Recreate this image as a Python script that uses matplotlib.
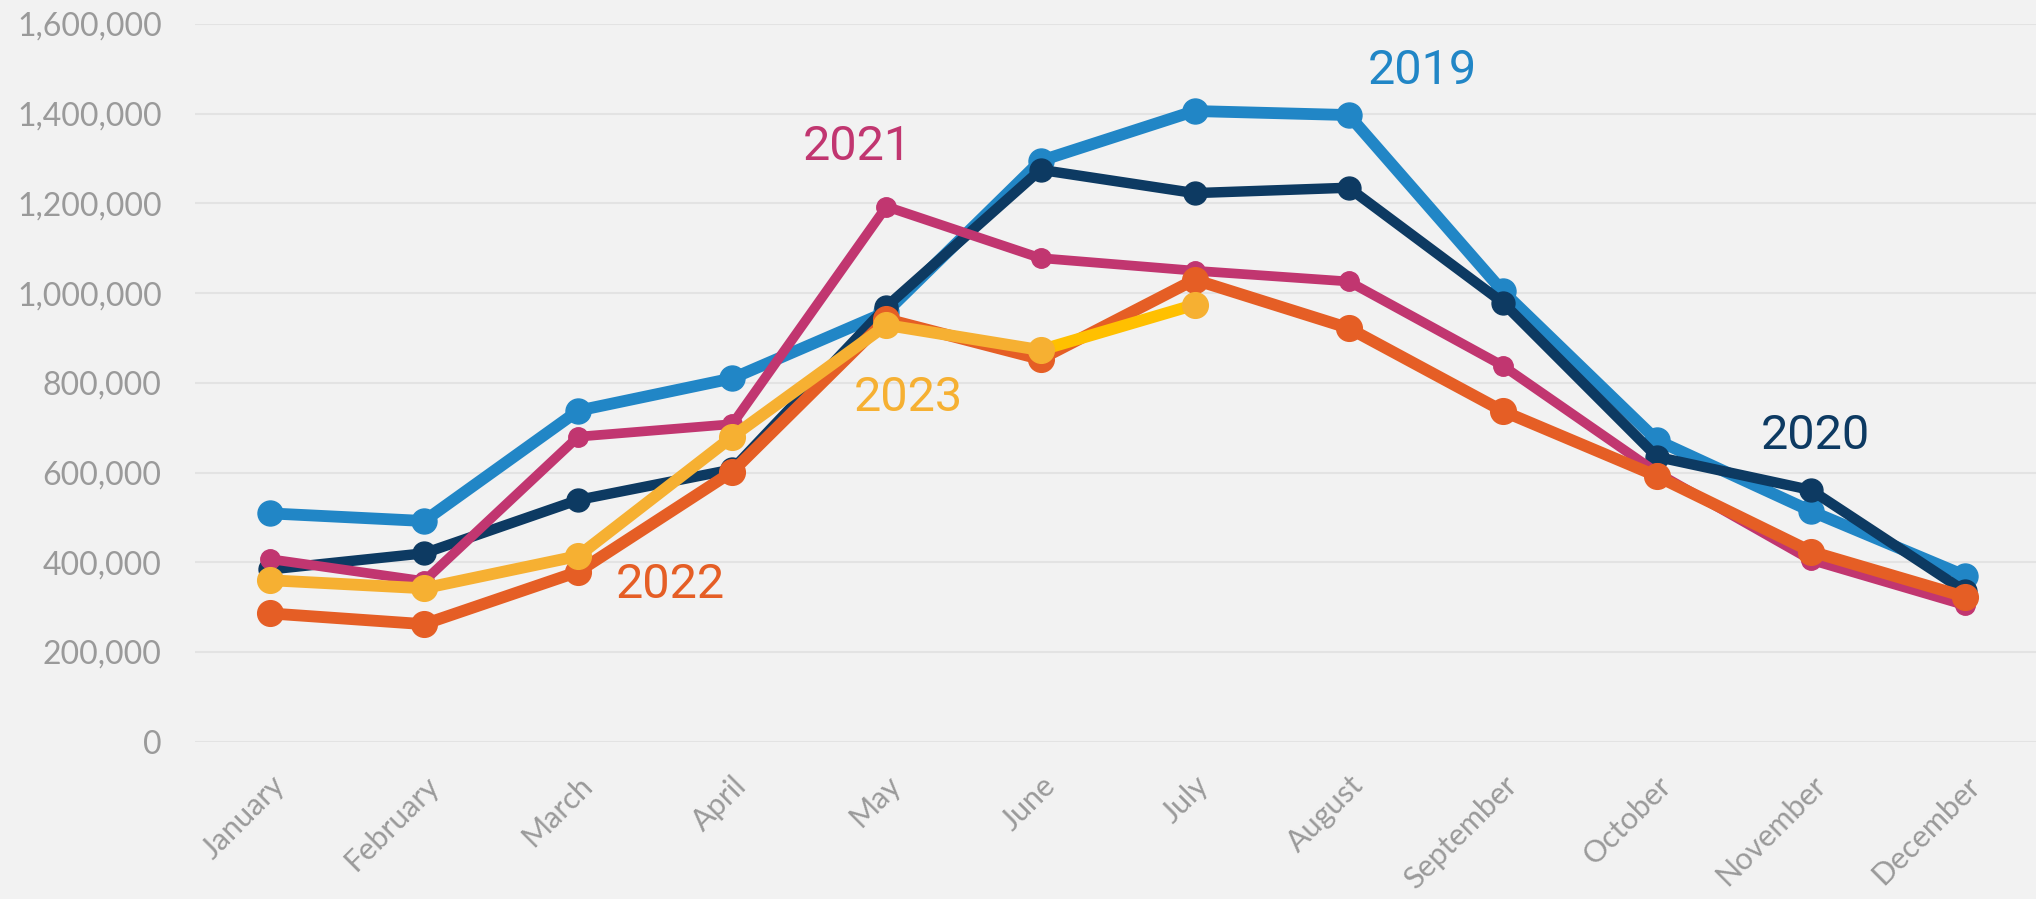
import matplotlib
matplotlib.use("Agg")
import matplotlib.pyplot as plt
from matplotlib.ticker import FuncFormatter

months = ["January", "February", "March", "April", "May", "June",
          "July", "August", "September", "October", "November", "December"]

y2019 = [509000, 492000, 738000, 810000, 958000, 1295000,
         1406000, 1397000, 1004000, 672000, 514000, 370000]
y2020 = [384000, 420000, 539000, 607000, 970000, 1275000,
         1223000, 1235000, 979000, 635000, 561000, 335000]
y2021 = [407000, 358000, 680000, 708000, 1193000, 1078000,
         1050000, 1026000, 838000, 600000, 405000, 304000]
y2022 = [286000, 262000, 379000, 602000, 942000, 853000,
         1030000, 922000, 737000, 592000, 424000, 323000]
y2023 = [360000, 342000, 414000, 680000, 929000, 873000, 974000]

bg = "#F2F2F2"
grey = "#9A9A9A"

fig = plt.figure(figsize=(20.36, 8.99), dpi=100, facecolor=bg)
ax = fig.add_axes([195 / 2036, (899 - 741.7) / 899, 1 - 195 / 2036, (741.7 - 24) / 899])
ax.set_facecolor(bg)

x = list(range(len(months)))

# (values, colour, line width, marker size)
series = [
    (y2019, "#2186C6", 8.5, 18.0),
    (y2020, "#0D3A62", 7.5, 16.5),
    (y2021, "#C13670", 7.0, 14.0),
    (y2022, "#E55E25", 8.5, 18.5),
]
for i, (vals, col, lw, ms) in enumerate(series):
    ax.plot(x[:len(vals)], vals, color=col, lw=lw, marker="o", ms=ms,
            solid_joinstyle="round", clip_on=False, zorder=3 + i)

amber = "#F6B032"
n23 = len(y2023)
ax.plot(x[:n23 - 1], y2023[:n23 - 1], color=amber, lw=8.5, solid_joinstyle="round",
        clip_on=False, zorder=7)
ax.plot(x[n23 - 2:n23], y2023[n23 - 2:], color="#FFC000", lw=8.5, clip_on=False, zorder=7)
ax.plot(x[:n23], y2023, color=amber, lw=0, marker="o", ms=18.5, clip_on=False, zorder=8)

# year labels
labels = [
    ("2019", 7.48, 1495000, "#2186C6"),
    ("2020", 10.03, 682000, "#0D3A62"),
    ("2021", 3.81, 1325000, "#C13670"),
    ("2022", 2.60, 349000, "#E55E25"),
    ("2023", 4.14, 767000, amber),
]
for txt, lx, ly, col in labels:
    ax.text(lx, ly, txt, color=col, fontsize=35, family="Roboto",
            ha="center", va="center", zorder=10)

ax.set_xlim(-0.487, 11.46)
ax.set_ylim(0, 1600000)
ax.set_yticks(range(0, 1600001, 200000))
ax.yaxis.set_major_formatter(FuncFormatter(lambda v, p: f"{v:,.0f}"))
ax.set_xticks(x)
ax.set_xticklabels(months, rotation=45, ha="right", va="top", rotation_mode="anchor")

for lab in ax.get_yticklabels():
    lab.set_family("Lato")
    lab.set_color(grey)
    lab.set_fontsize(23)
for lab in ax.get_xticklabels():
    lab.set_family("Lato")
    lab.set_color(grey)
    lab.set_fontsize(22)

ax.tick_params(axis="y", length=0, pad=24)
ax.tick_params(axis="x", length=0, pad=21)
ax.grid(axis="y", color="#E3E3E3", lw=1.5)
ax.set_axisbelow(True)
for s in ax.spines.values():
    s.set_visible(False)

fig.savefig("out.png", dpi=100, facecolor=bg)
